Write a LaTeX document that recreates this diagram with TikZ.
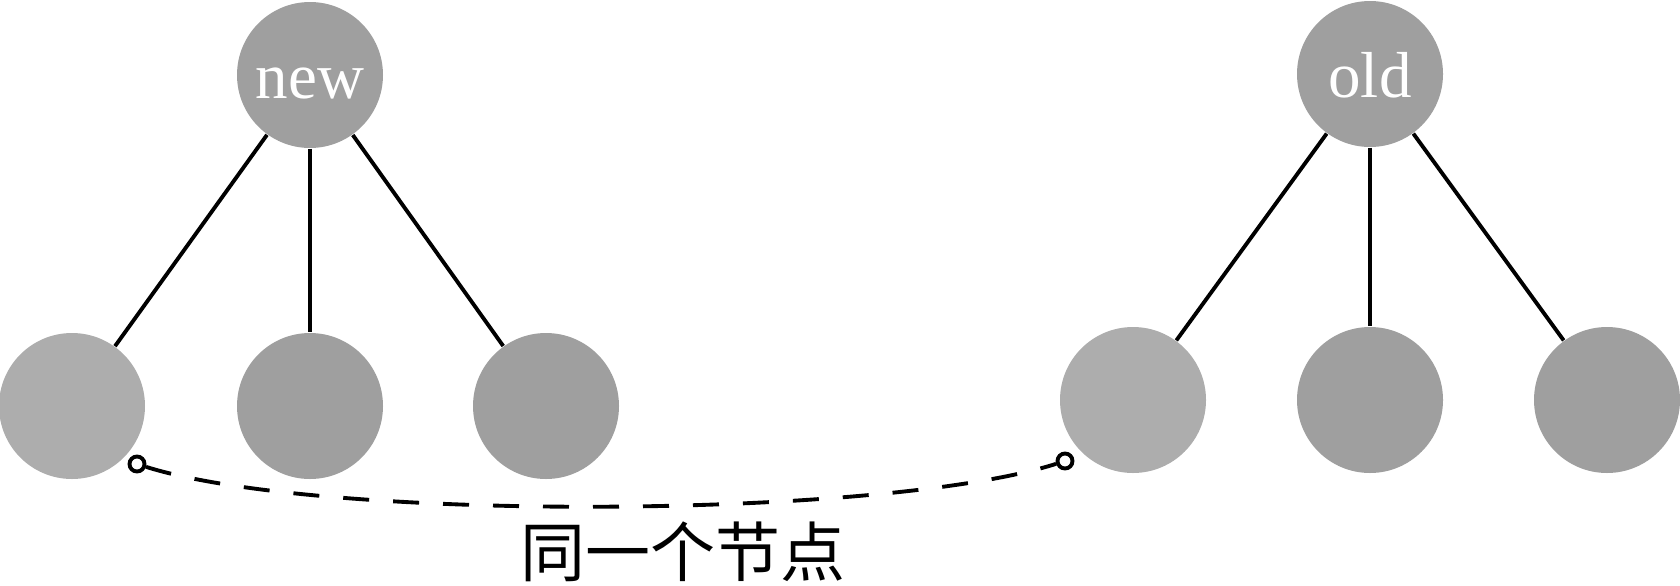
\documentclass[tikz,border=0pt]{standalone}
\usepackage{fontspec}
\setmainfont{Liberation Serif}
\newfontfamily\cjkfont{Noto Sans CJK SC}
\definecolor{rootgray}{HTML}{9F9F9F}
\definecolor{leafgray}{HTML}{ADADAD}

\begin{document}
\begin{tikzpicture}[
    tnode/.style={circle, fill=rootgray, minimum size=1.46cm, inner sep=0pt},
    samenode/.style={tnode, fill=leafgray},
    rootlabel/.style={text=white, font=\fontsize{18.5}{20}\selectfont, text height=0.46cm, text depth=0pt},
    branch/.style={line width=1.1pt},
    endmark/.style={circle, draw, line width=1.1pt, minimum size=0.15cm, inner sep=0pt},
    link/.style={line width=1.1pt, dash pattern=on 0.26cm off 0.24cm}
]
    \useasboundingbox (0,0) rectangle (16.8,5.85);

    % The new tree
    \node[tnode, rootlabel] (new) at (3.10,5.10) {new};
    \node[samenode] (new_a) at (0.72,1.79) {};
    \node[tnode] (new_b) at (3.10,1.79) {};
    \node[tnode] (new_c) at (5.46,1.79) {};

    % The old tree
    \node[tnode, rootlabel] (old) at (13.70,5.11) {old};
    \node[samenode] (old_a) at (11.33,1.85) {};
    \node[tnode] (old_b) at (13.70,1.85) {};
    \node[tnode] (old_c) at (16.07,1.85) {};

    \foreach \r in {new, old} {
        \foreach \c in {a, b, c}
            \draw[branch] (\r) -- (\r_\c);
    }

    % Both light nodes are the same node
    \node[endmark] (new_end) at (1.37,1.21) {};
    \node[endmark] (old_end) at (10.65,1.24) {};
    \draw[link] (new_end) .. controls (3.21,0.63) and (8.83,0.66) .. (old_end);

    \node[font=\cjkfont\fontsize{18.5}{20}\selectfont, inner sep=0pt] (same) at (6.83,0.33) {同一个节点};
\end{tikzpicture}
\end{document}
